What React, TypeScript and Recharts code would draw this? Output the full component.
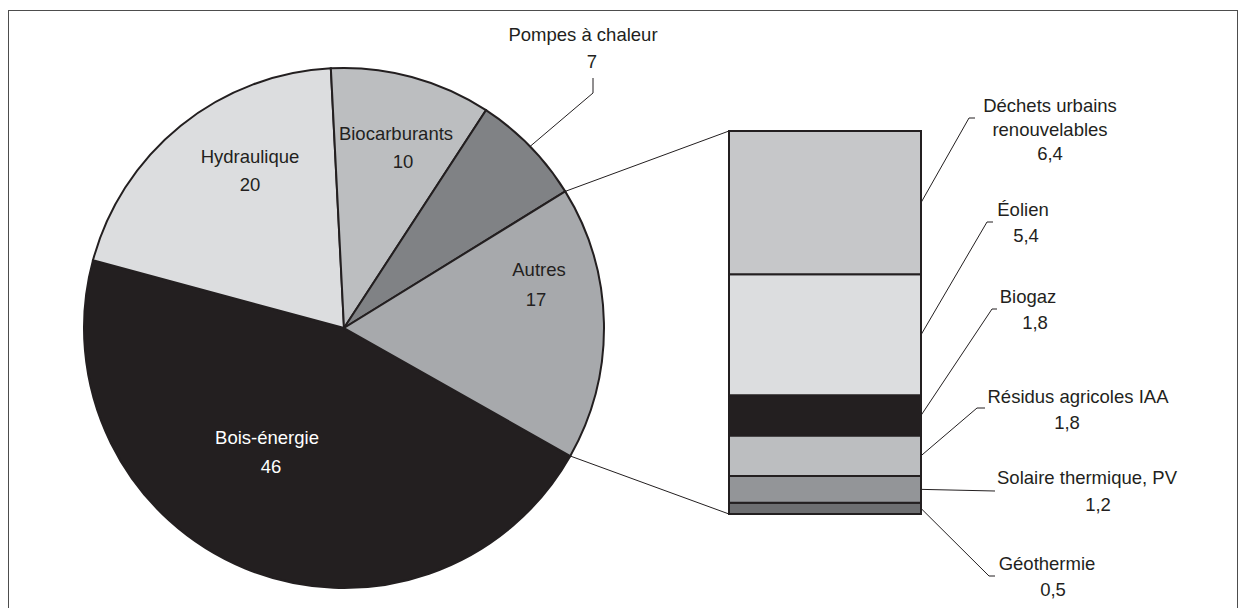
import { Bar, BarChart, Cell, Pie, PieChart, XAxis, YAxis } from 'recharts'

const W = 1245
const H = 608
const FONT = '"Liberation Sans", Arial, sans-serif'
const INK = '#231f20'

// Répartition de la production primaire d'énergies renouvelables (%)
const pieNames = ['Bois-énergie', 'Hydraulique', 'Biocarburants', 'Pompes à chaleur', 'Autres']
const pieValues = [46, 20, 10, 7, 17]
const pieColors = ['#231f20', '#dcdddf', '#bcbec0', '#808285', '#a7a9ac']

// détail de "Autres", du haut vers le bas de la barre
const autresNames = [
  'Déchets urbains\nrenouvelables',
  'Éolien',
  'Biogaz',
  'Résidus agricoles IAA',
  'Solaire thermique, PV',
  'Géothermie',
]
const autresValues = [6.4, 5.4, 1.8, 1.8, 1.2, 0.5]
const autresColors = ['#c6c7c9', '#dcdddf', '#231f20', '#bcbec0', '#939598', '#6d6e71']

const PIE_CX = 344
const PIE_CY = 328
const PIE_R = 260
const PIE_START = -29.5

// position des étiquettes du camembert, relative au centre
const pieLabelPos = [
  { tx: -77, ty: 110, vx: -73, vy: 139 },
  { tx: -94, ty: -171, vx: -94, vy: -143 },
  { tx: 52, ty: -194, vx: 59, vy: -166 },
  { tx: 239, ty: -293, vx: 248, vy: -266, ex: 249, ey: -235, topY: -250 },
  { tx: 195, ty: -58, vx: 192, vy: -28 },
]

// étiquettes de la barre : coude du trait, fin du petit tiret, textes
const barLabelPos = [
  { ex: 969, ey: 118, kx: 975, tx: 1050, ty: 106, vx: 1050, vy: 154 },
  { ex: 987, ey: 222, kx: 993, tx: 1023, ty: 210, vx: 1026, vy: 236 },
  { ex: 992, ey: 309, kx: 997, tx: 1028, ty: 297, vx: 1035, vy: 323 },
  { ex: 977, ey: 408, kx: 985, tx: 1078, ty: 397, vx: 1067, vy: 423 },
  { ex: 995, ey: 491, kx: 995, tx: 1087, ty: 478, vx: 1098, vy: 505 },
  { ex: 989, ey: 576, kx: 995, tx: 1047, ty: 564, vx: 1053, vy: 590 },
]

const BAR_LEFT = 729
const BAR_RIGHT = 921
const BAR_TOP = 131
const BAR_BOTTOM = 514

const fmt = (v: number) => String(v).replace('.', ',')
const RAD = Math.PI / 180

const pieData = pieNames.map((name, i) => ({ name, value: pieValues[i] }))
const pieTotal = pieValues.reduce((a, b) => a + b, 0)
const autresTotal = autresValues.reduce((a, b) => a + b, 0)

// la barre empile du bas vers le haut
const stackOrder = autresValues.map((_, i) => autresValues.length - 1 - i)
const barRow: Record<string, number | string> = { name: 'Autres' }
autresValues.forEach((v, i) => {
  barRow['s' + i] = v
})
const barData = [barRow]

function piePoint(angle: number, r = PIE_R) {
  return { x: PIE_CX + r * Math.cos(angle * RAD), y: PIE_CY - r * Math.sin(angle * RAD) }
}

// angles de la part "Autres", calculés depuis les données
const autresIdx = pieNames.indexOf('Autres')
const beforeAutres = pieValues.slice(0, autresIdx).reduce((a, b) => a + b, 0)
const autresStartAngle = PIE_START - (360 * beforeAutres) / pieTotal
const autresEndAngle = autresStartAngle - (360 * pieValues[autresIdx]) / pieTotal

const textStyle = { fontFamily: FONT, fontSize: 18.5 }

function renderPieLabel(props: any) {
  const { index, midAngle } = props
  const cx = props.cx ?? PIE_CX
  const cy = props.cy ?? PIE_CY
  const p = pieLabelPos[index]
  const color = index === 0 ? '#ffffff' : INK
  let leader = null
  if (p.ex !== undefined) {
    const start = piePoint(midAngle, props.outerRadius ?? PIE_R)
    leader = (
      <polyline
        points={`${start.x},${start.y} ${cx + p.ex},${cy + p.ey} ${cx + p.ex},${cy + (p.topY as number)}`}
        fill="none"
        stroke={INK}
        strokeWidth={1}
      />
    )
  }
  return (
    <g key={'pl' + index}>
      {leader}
      <text x={cx + p.tx} y={cy + p.ty} dy="0.35em" textAnchor="middle" fill={color} style={textStyle}>
        {pieNames[index]}
      </text>
      <text x={cx + p.vx} y={cy + p.vy} dy="0.35em" textAnchor="middle" fill={color} style={textStyle}>
        {fmt(pieValues[index])}
      </text>
    </g>
  )
}

function makeBarLabel(i: number) {
  return (props: any) => {
    const vb = props.viewBox ?? props
    const x = Number(vb.x ?? props.x)
    const y = Number(vb.y ?? props.y)
    const w = Number(vb.width ?? props.width)
    const h = Number(vb.height ?? props.height)
    const p = barLabelPos[i]
    const lines = autresNames[i].split('\n')
    const midY = y + h / 2
    const sx = x + w
    let connector = null
    if (i === 0) {
      const a = piePoint(autresStartAngle)
      connector = <line x1={a.x} y1={a.y} x2={x} y2={y} stroke={INK} strokeWidth={1} />
    }
    if (i === autresValues.length - 1) {
      const b = piePoint(autresEndAngle)
      connector = <line x1={b.x} y1={b.y} x2={x} y2={y + h} stroke={INK} strokeWidth={1} />
    }
    return (
      <g key={'bl' + i}>
        {connector}
        <polyline
          points={`${sx},${midY} ${p.ex},${p.ey} ${p.kx},${p.ey}`}
          fill="none"
          stroke={INK}
          strokeWidth={1}
        />
        {lines.map((line, k) => (
          <text key={k} x={p.tx} y={p.ty + k * 24} dy="0.35em" textAnchor="middle" fill={INK} style={textStyle}>
            {line}
          </text>
        ))}
        <text x={p.vx} y={p.vy} dy="0.35em" textAnchor="middle" fill={INK} style={textStyle}>
          {fmt(autresValues[i])}
        </text>
      </g>
    )
  }
}

export default function App() {
  return (
    <div style={{ position: 'relative', width: W, height: H, overflow: 'hidden', background: '#fff' }}>
      <style>{'body{margin:0}'}</style>
      <div
        style={{
          position: 'absolute',
          left: 8,
          top: 10,
          width: 1230,
          height: 700,
          border: '1.5px solid #4d4d4d',
          boxSizing: 'border-box',
        }}
      />
      <div style={{ position: 'absolute', left: 0, top: 0 }}>
        <PieChart width={W} height={H} margin={{ top: 0, right: 0, bottom: 0, left: 0 }}>
          <Pie
            data={pieData}
            dataKey="value"
            nameKey="name"
            cx={PIE_CX}
            cy={PIE_CY}
            outerRadius={PIE_R}
            startAngle={PIE_START}
            endAngle={PIE_START - 360}
            stroke={INK}
            strokeWidth={2}
            label={renderPieLabel}
            labelLine={false}
            isAnimationActive={false}
          >
            {pieData.map((d, i) => (
              <Cell key={d.name} fill={pieColors[i]} />
            ))}
          </Pie>
        </PieChart>
      </div>
      <div style={{ position: 'absolute', left: 0, top: 0 }}>
        <BarChart
          width={W}
          height={H}
          data={barData}
          barCategoryGap={0}
          margin={{ top: BAR_TOP, bottom: H - BAR_BOTTOM, left: BAR_LEFT, right: W - BAR_RIGHT }}
        >
          <XAxis dataKey="name" hide />
          <YAxis hide domain={[0, autresTotal]} />
          {stackOrder.map((i) => (
            <Bar
              key={i}
              dataKey={'s' + i}
              stackId="autres"
              fill={autresColors[i]}
              stroke={INK}
              strokeWidth={2}
              label={makeBarLabel(i)}
              isAnimationActive={false}
            />
          ))}
        </BarChart>
      </div>
    </div>
  )
}
